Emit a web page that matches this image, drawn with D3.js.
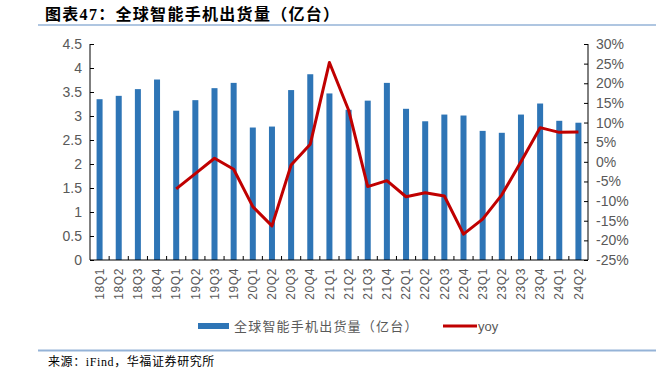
<!DOCTYPE html>
<html>
<head>
<meta charset="utf-8">
<script src="https://cdn.jsdelivr.net/npm/d3@7"></script>
<style>
  body { margin: 0; background: #fff; }
  svg text { font-family: "Liberation Sans", "Noto Sans CJK SC", sans-serif; }
</style>
</head>
<body>
<div id="chart"></div>
<script>
// Quarters on the x-axis
var quarters = ["18Q1","18Q2","18Q3","18Q4","19Q1","19Q2","19Q3","19Q4",
                "20Q1","20Q2","20Q3","20Q4","21Q1","21Q2","21Q3","21Q4",
                "22Q1","22Q2","22Q3","22Q4","23Q1","23Q2","23Q3","23Q4",
                "24Q1","24Q2"];

// Shipments (亿台)
var shipments = [3.35, 3.42, 3.56, 3.76, 3.11, 3.33, 3.58, 3.69,
                 2.76, 2.78, 3.54, 3.87, 3.47, 3.13, 3.32, 3.69,
                 3.15, 2.89, 3.03, 3.01, 2.69, 2.65, 3.03, 3.26,
                 2.90, 2.86];

// YoY (%), null where not shown
var yoy = [null, null, null, null, -6.9, -3.0, 0.9, -1.9,
           -11.4, -16.3, -0.8, 4.5, 25.3, 13.2, -6.3, -4.8,
           -8.9, -7.9, -8.7, -18.4, -14.6, -8.4, 0.0, 8.7,
           7.5, 7.6];

var leftTicks = [0, 0.5, 1, 1.5, 2, 2.5, 3, 3.5, 4, 4.5];
var rightTicks = [-25, -20, -15, -10, -5, 0, 5, 10, 15, 20, 25, 30];

var barColor = "#2e75b6";
var lineColor = "#c00000";
var textGray = "#595959";

var svgWidth = 670, svgHeight = 374;
var margin = { top: 44, right: 82, bottom: 114, left: 90 };
var chartWidth = svgWidth - margin.left - margin.right;
var chartHeight = svgHeight - margin.top - margin.bottom;

var svg = d3.select("#chart").append("svg")
    .attr("width", svgWidth)
    .attr("height", svgHeight);

// Title + rules
svg.append("text")
    .attr("x", 45).attr("y", 20)
    .attr("font-size", 16).attr("font-weight", "bold")
    .attr("letter-spacing", 1.3)
    .attr("fill", "#000")
    .style("font-family", "'Liberation Serif', 'Noto Sans CJK SC', serif")
    .text("图表47：全球智能手机出货量（亿台）");

svg.append("line")
    .attr("x1", 38).attr("x2", 656).attr("y1", 25).attr("y2", 25)
    .attr("stroke", "#95b3d7").attr("stroke-width", 1.5);

svg.append("line")
    .attr("x1", 38).attr("x2", 656).attr("y1", 350.5).attr("y2", 350.5)
    .attr("stroke", "#95b3d7").attr("stroke-width", 2);

svg.append("text")
    .attr("x", 48).attr("y", 366)
    .attr("font-size", 12).attr("fill", "#000")
    .attr("letter-spacing", 0.6)
    .style("font-family", "'Liberation Serif', 'Noto Sans CJK SC', serif")
    .text("来源：iFind，华福证券研究所");

var chartGrp = svg.append("g")
    .attr("transform", `translate(${margin.left}, ${margin.top})`);

// Scales
var x = d3.scaleBand().domain(quarters).range([0, chartWidth]);
var yLeft = d3.scaleLinear().domain([0, 4.5]).range([chartHeight, 0]);
var yRight = d3.scaleLinear().domain([-25, 30]).range([chartHeight, 0]);

// Bars
var barW = 6;
chartGrp.selectAll(".bar").data(shipments).enter().append("rect")
    .attr("class", "bar")
    .attr("x", (d, i) => x(quarters[i]) + x.bandwidth() / 2 - barW / 2)
    .attr("y", d => yLeft(d))
    .attr("width", barW)
    .attr("height", d => chartHeight - yLeft(d))
    .attr("fill", barColor);

// YoY line
var line = d3.line()
    .defined(d => d.v !== null)
    .x(d => x(d.q) + x.bandwidth() / 2)
    .y(d => yRight(d.v));

chartGrp.append("path")
    .datum(quarters.map((q, i) => ({ q: q, v: yoy[i] })))
    .attr("d", line)
    .attr("fill", "none")
    .attr("stroke", lineColor)
    .attr("stroke-width", 3)
    .attr("stroke-linejoin", "round");

// Axes
var leftAxis = d3.axisRight(yLeft).tickValues(leftTicks).tickSize(4).tickFormat(d3.format(""));
var gl = chartGrp.append("g").call(leftAxis);
gl.select(".domain").attr("d", `M0,0V${chartHeight}`);
gl.selectAll("text").attr("x", -8).attr("text-anchor", "end");

var rightAxis = d3.axisLeft(yRight).tickValues(rightTicks).tickSize(4).tickFormat(d => d + "%");
var gr = chartGrp.append("g").attr("transform", `translate(${chartWidth},0)`).call(rightAxis);
gr.select(".domain").attr("d", `M0,0V${chartHeight}`);
gr.selectAll("text").attr("x", 8).attr("text-anchor", "start");

var bottomAxis = d3.axisBottom(x).tickSize(0);
var gb = chartGrp.append("g").attr("transform", `translate(0,${chartHeight})`).call(bottomAxis);
gb.select(".domain").attr("d", `M0,0H${chartWidth}`);
gb.selectAll("text")
    .attr("transform", "rotate(-90)")
    .attr("x", -8).attr("y", 0).attr("dy", "0.35em")
    .attr("text-anchor", "end")
    .attr("font-size", 12)
    .attr("letter-spacing", 0.6);

// Category boundary ticks pointing up
chartGrp.append("g").selectAll("line")
    .data(d3.range(1, quarters.length)).enter().append("line")
    .attr("x1", d => d * x.step()).attr("x2", d => d * x.step())
    .attr("y1", chartHeight).attr("y2", chartHeight - 4)
    .attr("stroke", "#000");

[gl, gr, gb].forEach(g => {
    g.selectAll(".domain").attr("stroke", "#000");
    g.selectAll(".tick line").attr("stroke", "#000");
    g.selectAll("text").attr("fill", textGray);
});
gl.selectAll("text").attr("font-size", 14);
gr.selectAll("text").attr("font-size", 14);

// Legend
var legend = svg.append("g");
legend.append("rect")
    .attr("x", 198).attr("y", 323).attr("width", 31).attr("height", 6)
    .attr("fill", barColor);
legend.append("text")
    .attr("x", 234).attr("y", 331)
    .attr("font-size", 13).attr("fill", textGray)
    .attr("letter-spacing", 1.2)
    .text("全球智能手机出货量（亿台）");
legend.append("line")
    .attr("x1", 443).attr("x2", 477).attr("y1", 326).attr("y2", 326)
    .attr("stroke", lineColor).attr("stroke-width", 3);
legend.append("text")
    .attr("x", 478).attr("y", 331)
    .attr("font-size", 13).attr("fill", textGray)
    .text("yoy");
</script>
</body>
</html>
